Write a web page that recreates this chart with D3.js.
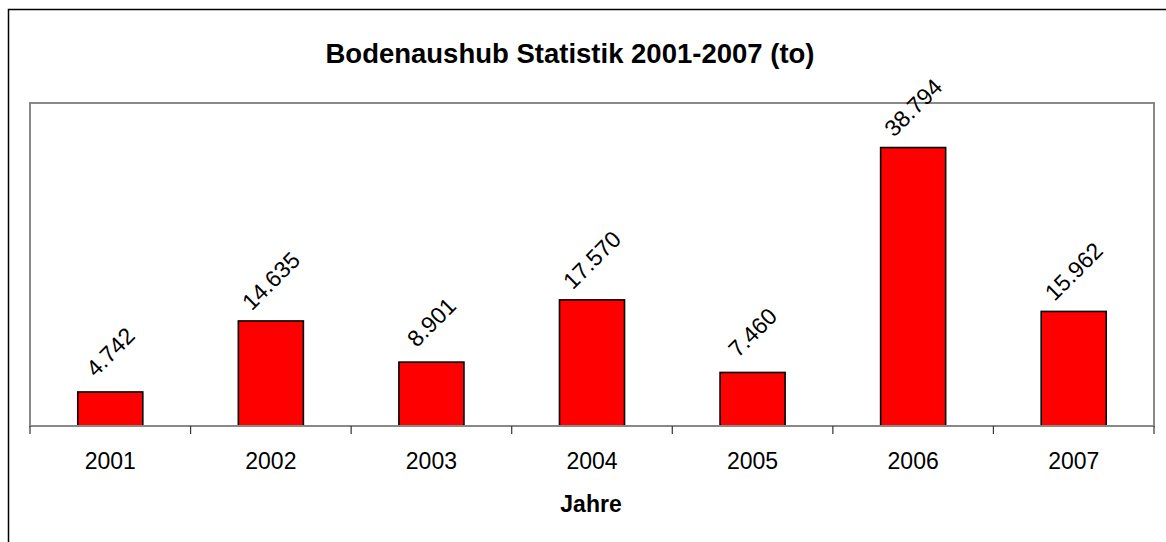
<!DOCTYPE html>
<html>
<head>
<meta charset="utf-8">
<script src="https://cdn.jsdelivr.net/npm/d3@7"></script>
<style>
  body { margin: 0; background: #fff; }
  svg { display: block; font-family: "Liberation Sans", Arial, sans-serif; }
</style>
</head>
<body>
<div id="chart"></div>
<script>
// Jahre und Bodenaushub in Tonnen
const jahre = ["2001", "2002", "2003", "2004", "2005", "2006", "2007"];
const tonnen = [4742, 14635, 8901, 17570, 7460, 38794, 15962];
const titel = "Bodenaushub Statistik 2001-2007 (to)";
const xTitel = "Jahre";

const width = 1166;
const height = 542;
const plotLeft = 30, plotRight = 1154, plotTop = 103, plotBottom = 426;

const svg = d3.select("#chart").append("svg")
    .attr("width", width)
    .attr("height", height);

// äußerer Rahmen (rechts/unten abgeschnitten wie im Original)
svg.append("rect")
    .attr("x", 8.5).attr("y", 9.5)
    .attr("width", width + 20).attr("height", height + 20)
    .attr("fill", "none")
    .attr("stroke", "#000")
    .attr("stroke-width", 1.5);

const x = d3.scaleBand()
    .domain(jahre)
    .range([plotLeft, plotRight])
    .padding(0);

const y = d3.scaleLinear()
    .domain([0, 45000])
    .range([plotBottom, plotTop]);

// Plotrahmen
svg.append("rect")
    .attr("x", plotLeft).attr("y", plotTop)
    .attr("width", plotRight - plotLeft).attr("height", plotBottom - plotTop)
    .attr("fill", "none")
    .attr("stroke", "#888")
    .attr("stroke-width", 2);

const barW = x.bandwidth() * 0.405;
const fmt = d3.formatLocale({ decimal: ",", thousands: ".", grouping: [3], currency: ["", " €"] }).format(",d");

svg.append("g")
  .selectAll("rect")
  .data(jahre)
  .join("rect")
    .attr("x", d => x(d) + (x.bandwidth() - barW) / 2)
    .attr("y", (d, i) => y(tonnen[i]))
    .attr("width", barW)
    .attr("height", (d, i) => y(0) - y(tonnen[i]))
    .attr("fill", "#ff0000")
    .attr("stroke", "#000")
    .attr("stroke-width", 1.6);

// Datenbeschriftung, 45° gedreht
svg.append("g")
  .selectAll("text")
  .data(jahre)
  .join("text")
    .attr("transform", (d, i) => `translate(${x(d) + x.bandwidth() / 2},${y(tonnen[i]) - 40}) rotate(-45)`)
    .attr("text-anchor", "middle")
    .attr("dy", "0.35em")
    .attr("font-size", 23)
    .attr("fill", "#000")
    .text((d, i) => fmt(tonnen[i]));

// x-Achse: Striche an Kategoriegrenzen
const grenzen = jahre.map(d => x(d)).concat([plotRight]);
const achse = svg.append("g").attr("transform", `translate(0,${plotBottom})`);
achse.append("line")
    .attr("x1", plotLeft).attr("x2", plotRight)
    .attr("stroke", "#888").attr("stroke-width", 2);
achse.selectAll(".tick")
  .data(grenzen)
  .join("line")
    .attr("x1", d => d).attr("x2", d => d)
    .attr("y1", 0).attr("y2", 8)
    .attr("stroke", "#333").attr("stroke-width", 1.2);
achse.selectAll(".lbl")
  .data(jahre)
  .join("text")
    .attr("x", d => x(d) + x.bandwidth() / 2)
    .attr("y", 43)
    .attr("text-anchor", "middle")
    .attr("font-size", 23)
    .text(d => d);

svg.append("text")
    .attr("x", 591).attr("y", 512)
    .attr("text-anchor", "middle")
    .attr("font-size", 23)
    .attr("font-weight", "bold")
    .text(xTitel);

svg.append("text")
    .attr("x", 570).attr("y", 63)
    .attr("text-anchor", "middle")
    .attr("font-size", 27.5)
    .attr("font-weight", "bold")
    .text(titel);
</script>
</body>
</html>
